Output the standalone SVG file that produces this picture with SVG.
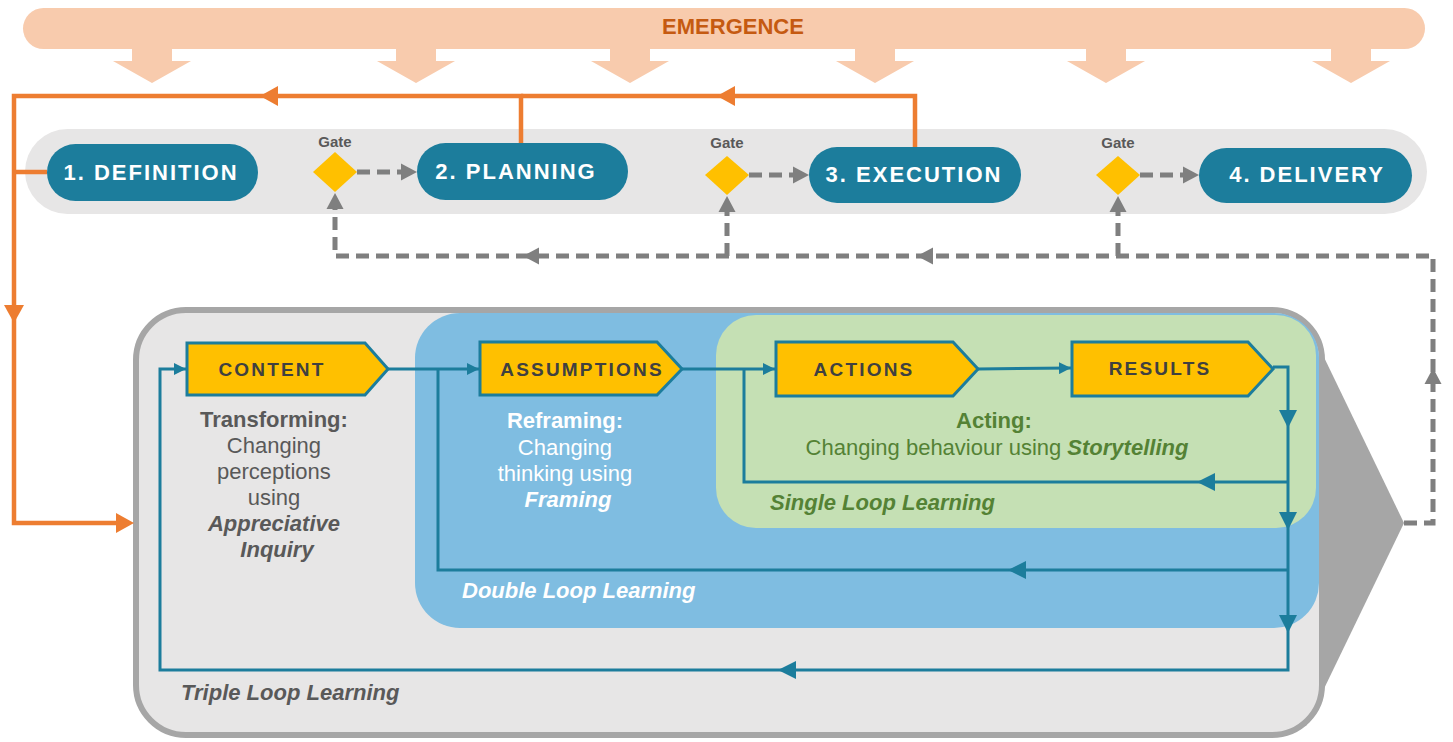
<svg xmlns="http://www.w3.org/2000/svg" xmlns:xlink="http://www.w3.org/1999/xlink" width="1453" height="742" viewBox="0 0 1453 742">
  <defs>
    <style>
      text { font-family: "Liberation Sans", Arial, sans-serif; }
      .pill { fill: #1c7d9c; }
      .pill-text { fill: #ffffff; font-size: 22px; font-weight: bold; letter-spacing: 2px; text-anchor: middle; }
      .gate { fill: #ffc000; }
      .gate-label { fill: #595959; font-size: 15px; font-weight: bold; text-anchor: middle; }
      .step { fill: #ffc000; stroke: #1c7d9c; stroke-width: 3; stroke-linejoin: miter; }
      .step-text { fill: #404040; font-size: 19px; font-weight: bold; letter-spacing: 2.2px; text-anchor: middle; }
      .orange { fill: none; stroke: #ed7d31; stroke-width: 4.5; }
      .dash { fill: none; stroke: #7f7f7f; stroke-width: 5; stroke-dasharray: 13 7; }
      .teal { fill: none; stroke: #1c7d9c; stroke-width: 3; }
      .body { font-size: 22px; text-anchor: middle; }
      .b { font-weight: bold; }
      .bi { font-weight: bold; font-style: italic; }
      .loop { font-size: 22px; font-weight: bold; font-style: italic; }
    </style>
    <!-- arrowhead shapes, tip at the origin, pointing along +x -->
    <path id="orangeHead" d="M0,0 L-18,-10 L-18,10 Z" fill="#ed7d31"/>
    <path id="grayHead" d="M0,0 L-16,-8.5 L-16,8.5 Z" fill="#7f7f7f"/>
    <path id="tealHead" d="M0,0 L-18,-9 L-18,9 Z" fill="#1c7d9c"/>
    <path id="emergeArrow" d="M-20,47 H20 V61 H39 L0,83 L-39,61 H-20 Z" fill="#f8cbad"/>
    <marker id="tealEnd" markerUnits="userSpaceOnUse" markerWidth="12" markerHeight="12" refX="10" refY="5" orient="auto" viewBox="0 0 10 10">
      <path d="M0,0 L10,5 L0,10 Z" fill="#1c7d9c"/>
    </marker>
  </defs>

  <!-- Emergence banner -->
  <g id="emergence">
    <rect x="23" y="8" width="1402" height="41" rx="20.5" fill="#f8cbad"/>
    <use xlink:href="#emergeArrow" transform="translate(152,0)"/>
    <use xlink:href="#emergeArrow" transform="translate(416,0)"/>
    <use xlink:href="#emergeArrow" transform="translate(630,0)"/>
    <use xlink:href="#emergeArrow" transform="translate(875,0)"/>
    <use xlink:href="#emergeArrow" transform="translate(1106,0)"/>
    <use xlink:href="#emergeArrow" transform="translate(1351,0)"/>
    <text x="733" y="34" font-size="22" font-weight="bold" fill="#c55a11" text-anchor="middle">EMERGENCE</text>
  </g>

  <!-- Stage band -->
  <rect id="stage-band" x="25" y="129" width="1402" height="85" rx="42.5" fill="#e7e6e6"/>

  <!-- Learning area: outer triangle + box -->
  <g id="learning-box">
    <polygon points="1280,320 1306,320 1404,523 1306,726 1280,726" fill="#a6a6a6"/>
    <rect x="136" y="310" width="1186" height="425" rx="50" fill="#e7e6e6" stroke="#a6a6a6" stroke-width="6"/>
  </g>
  <rect id="double-loop-area" x="415" y="313" width="904" height="315" rx="45" fill="#7fbde1"/>
  <rect id="single-loop-area" x="716" y="315" width="600" height="213" rx="40" fill="#c5e0b4"/>

  <g id="connectors">
    <!-- orange escalation lines -->
    <path class="orange" d="M47,172 H14"/>
    <path class="orange" d="M521,143 V96 H14 V523 H118"/>
    <path class="orange" d="M915,147 V96 H521"/>
    <use xlink:href="#orangeHead" transform="translate(260,96) rotate(180)"/>
    <use xlink:href="#orangeHead" transform="translate(717,96) rotate(180)"/>
    <use xlink:href="#orangeHead" transform="translate(14,323) rotate(90)"/>
    <use xlink:href="#orangeHead" transform="translate(134,523)"/>

    <!-- gate to stage -->
    <path class="dash" d="M357,172 H402"/>
    <path class="dash" d="M749,175 H794"/>
    <path class="dash" d="M1140,175 H1184"/>
    <use xlink:href="#grayHead" transform="translate(417,172)"/>
    <use xlink:href="#grayHead" transform="translate(809,175)"/>
    <use xlink:href="#grayHead" transform="translate(1199,175)"/>

    <!-- feedback to gates -->
    <path class="dash" d="M1404,523 H1433 V256 H335 V208"/>
    <path class="dash" d="M727,256 V210"/>
    <path class="dash" d="M1118,256 V210"/>
    <use xlink:href="#grayHead" transform="translate(335,193) rotate(-90)"/>
    <use xlink:href="#grayHead" transform="translate(727,196) rotate(-90)"/>
    <use xlink:href="#grayHead" transform="translate(1118,196) rotate(-90)"/>
    <use xlink:href="#grayHead" transform="translate(523,256) rotate(180)"/>
    <use xlink:href="#grayHead" transform="translate(917,256) rotate(180)"/>
    <use xlink:href="#grayHead" transform="translate(1433,368) rotate(-90)"/>

    <!-- learning loops -->
    <path class="teal" d="M388,369 H479" marker-end="url(#tealEnd)"/>
    <path class="teal" d="M682,369 H775" marker-end="url(#tealEnd)"/>
    <path class="teal" d="M978,369 L1071,368" marker-end="url(#tealEnd)"/>
    <path class="teal" d="M438,369 V570 H1288"/>
    <path class="teal" d="M744,369 V482 H1288"/>
    <path class="teal" d="M1273,367 H1288 V670 H160 V369 H186" marker-end="url(#tealEnd)" stroke-width="3.5"/>
    <use xlink:href="#tealHead" transform="translate(1288,428) rotate(90)"/>
    <use xlink:href="#tealHead" transform="translate(1288,530) rotate(90)"/>
    <use xlink:href="#tealHead" transform="translate(1288,633) rotate(90)"/>
    <use xlink:href="#tealHead" transform="translate(1197,482) rotate(180)"/>
    <use xlink:href="#tealHead" transform="translate(1008,570) rotate(180)"/>
    <use xlink:href="#tealHead" transform="translate(778,670) rotate(180)"/>
  </g>

  <!-- Stages -->
  <g id="definition">
    <rect class="pill" x="47" y="144" width="211" height="57" rx="28.5"/>
    <text class="pill-text" x="151" y="180">1. DEFINITION</text>
  </g>
  <g id="planning">
    <rect class="pill" x="417" y="143" width="211" height="57" rx="28.5"/>
    <text class="pill-text" x="516" y="179">2. PLANNING</text>
  </g>
  <g id="execution">
    <rect class="pill" x="809" y="147" width="212" height="56" rx="28"/>
    <text class="pill-text" x="914" y="182">3. EXECUTION</text>
  </g>
  <g id="delivery">
    <rect class="pill" x="1199" y="148" width="213" height="55" rx="27.5"/>
    <text class="pill-text" x="1307" y="182">4. DELIVERY</text>
  </g>

  <!-- Gates -->
  <g id="gate-1">
    <polygon class="gate" points="335,152 357,172 335,192 313,172"/>
    <text class="gate-label" x="335" y="147">Gate</text>
  </g>
  <g id="gate-2">
    <polygon class="gate" points="727,156 749,175 727,195 705,175"/>
    <text class="gate-label" x="727" y="148">Gate</text>
  </g>
  <g id="gate-3">
    <polygon class="gate" points="1118,156 1140,175 1118,195 1096,175"/>
    <text class="gate-label" x="1118" y="148">Gate</text>
  </g>

  <!-- Learning steps -->
  <g id="content">
    <polygon class="step" points="187,343 365,343 388,369 365,395 187,395"/>
    <text class="step-text" x="272" y="376">CONTENT</text>
    <text class="body" fill="#595959">
      <tspan class="b" x="277" y="427">Transforming:</tspan>
      <tspan x="277" y="453">Changing</tspan>
      <tspan x="277" y="479">perceptions</tspan>
      <tspan x="277" y="505">using</tspan>
      <tspan class="bi" x="277" y="531">Appreciative</tspan>
      <tspan class="bi" x="277" y="557">Inquiry</tspan>
    </text>
  </g>
  <g id="assumptions">
    <polygon class="step" points="480,342 657,342 682,369 657,395 480,395"/>
    <text class="step-text" x="582" y="376">ASSUMPTIONS</text>
    <text class="body" fill="#ffffff">
      <tspan class="b" x="568" y="428">Reframing:</tspan>
      <tspan x="568" y="455">Changing</tspan>
      <tspan x="568" y="481">thinking using</tspan>
      <tspan class="bi" x="568" y="507">Framing</tspan>
    </text>
  </g>
  <g id="actions">
    <polygon class="step" points="776,342 953,342 978,369 953,396 776,396"/>
    <text class="step-text" x="864" y="376">ACTIONS</text>
    <text class="body" fill="#548235">
      <tspan class="b" x="997" y="428">Acting:</tspan>
      <tspan x="997" y="455">Changing behaviour using <tspan class="bi">Storytelling</tspan></tspan>
    </text>
  </g>
  <g id="results">
    <polygon class="step" points="1072,342 1248,342 1273,369 1248,396 1072,396"/>
    <text class="step-text" x="1160" y="375">RESULTS</text>
  </g>

  <!-- Loop captions -->
  <text class="loop" x="770" y="510" fill="#548235">Single Loop Learning</text>
  <text class="loop" x="462" y="598" fill="#ffffff">Double Loop Learning</text>
  <text class="loop" x="181" y="700" fill="#595959">Triple Loop Learning</text>
</svg>
